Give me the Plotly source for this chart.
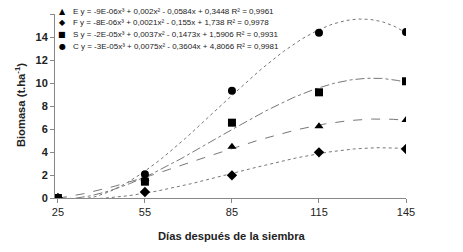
import numpy as np
import plotly.graph_objects as go

dias = [25, 55, 85, 115, 145]
E = [0, 1.7, 4.45, 6.25, 6.78]
F = [0, 0.52, 1.97, 3.97, 4.26]
S = [0, 1.42, 6.55, 9.19, 10.15]
C = [0, 2.06, 9.33, 14.37, 14.43]

labels = {
    "E": "E y = -9E-06x³ + 0,002x² - 0,0584x + 0,3448 R² = 0,9961",
    "F": "F y = -8E-06x³ + 0,0021x² - 0,155x + 1,738 R² = 0,9978",
    "S": "S y = -2E-05x³ + 0,0037x² - 0,1473x + 1,5906 R² = 0,9931",
    "C": "C y = -3E-05x³ + 0,0075x² - 0,3604x + 4,8066 R² = 0,9981",
}
glyphs = {"E": "▲", "F": "◆", "S": "■", "C": "●"}

series = [
    ("E", E, "triangle-up", "dash"),
    ("F", F, "diamond", "dot"),
    ("S", S, "square", "dashdot"),
    ("C", C, "circle", "dot"),
]

fig = go.Figure()
xs = np.linspace(dias[0], dias[-1], 200)
for name, vals, sym, dash in series:
    coef = np.polyfit(dias, vals, 3)
    fig.add_trace(go.Scatter(x=xs, y=np.polyval(coef, xs), mode="lines",
                             line=dict(color="#777777", width=1, dash=dash),
                             showlegend=False, hoverinfo="skip"))
for name, vals, sym, dash in series:
    fig.add_trace(go.Scatter(x=dias, y=vals, mode="markers", name=labels[name],
                             marker=dict(symbol=sym, color="black", size=8),
                             showlegend=False))

annotations = [
    dict(text="<b>Días después de la siembra</b>", xref="paper", yref="paper",
         x=0.504, y=-0.207, xanchor="center", yanchor="middle",
         showarrow=False, font=dict(size=11.2)),
    dict(text="<b>Biomasa (t.ha<sup>-1</sup>)</b>", xref="paper", yref="paper",
         x=-0.0997, y=0.505, xanchor="center", yanchor="middle", textangle=-90,
         showarrow=False, font=dict(size=11.2)),
]
row_y = [1.0163, 0.9511, 0.8859, 0.8207]
for (name, vals, sym, dash), yy in zip(series, row_y):
    annotations.append(dict(text=glyphs[name], xref="paper", yref="paper",
                            x=0.020, y=yy, xanchor="center", yanchor="middle",
                            showarrow=False, font=dict(size=8, family="DejaVu Sans", color="black")))
    annotations.append(dict(text=labels[name], xref="paper", yref="paper",
                            x=0.0456, y=yy, xanchor="left", yanchor="middle",
                            showarrow=False, font=dict(size=8)))

# page body has an 8px margin; figure sized/margined to compensate
fig.update_layout(
    width=455, height=244,
    margin=dict(l=47, r=57, t=6, b=54, autoexpand=False),
    paper_bgcolor="white", plot_bgcolor="white",
    font=dict(family="Liberation Sans, Arial", color="#222"),
    showlegend=False,
    xaxis=dict(range=[24, 145], tickvals=dias, showline=True, linecolor="#888",
               ticks="outside", ticklen=4, tickcolor="#888", showgrid=False,
               zeroline=False, tickfont=dict(size=11), automargin=False),
    yaxis=dict(range=[0, 16], dtick=2, showline=True, linecolor="#888",
               ticks="outside", ticklen=4, tickcolor="#888", showgrid=False,
               zeroline=False, tickfont=dict(size=11), automargin=False),
    annotations=annotations,
)
fig.update_xaxes(tickprefix="<b>", ticksuffix="</b>")
fig.update_yaxes(tickprefix="<b>", ticksuffix="</b>")
fig.write_html("out.html")
